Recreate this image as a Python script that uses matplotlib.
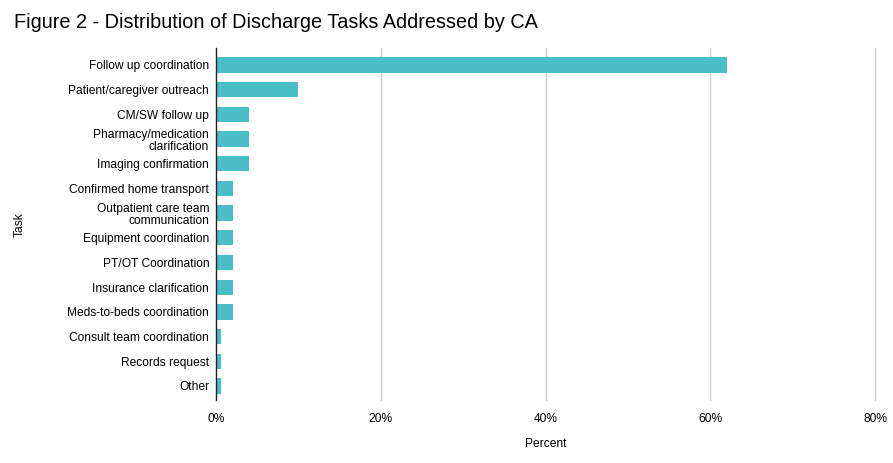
import matplotlib
matplotlib.use('Agg')
import matplotlib.pyplot as plt
from matplotlib.ticker import PercentFormatter

# ── Data ─────────────────────────────────────────────────────
tasks = [
    'Follow up coordination',
    'Patient/caregiver outreach',
    'CM/SW follow up',
    'Pharmacy/medication\nclarification',
    'Imaging confirmation',
    'Confirmed home transport',
    'Outpatient care team\ncommunication',
    'Equipment coordination',
    'PT/OT Coordination',
    'Insurance clarification',
    'Meds-to-beds coordination',
    'Consult team coordination',
    'Records request',
    'Other',
]
percent = [62, 10, 4, 4, 4, 2, 2, 2, 2, 2, 2, 0.6, 0.6, 0.6]
x_ticks = [0, 20, 40, 60, 80]

TEAL = '#4ABEC6'

plt.rcParams['font.family'] = ['Liberation Sans', 'DejaVu Sans']

fig = plt.figure(figsize=(8.93, 4.63), dpi=100)
ax = fig.add_axes([0.242, 0.136, 0.738, 0.760])

ypos = list(range(len(tasks)))
ax.barh(ypos, percent, height=0.62, color=TEAL, zorder=3)

ax.set_xlim(0, 80)
ax.set_ylim(13.57, -0.68)
ax.set_xticks(x_ticks)
ax.xaxis.set_major_formatter(PercentFormatter(decimals=0))
ax.set_yticks(ypos)
ax.set_yticklabels(tasks, fontsize=8.65, linespacing=1.05, multialignment='right')
ax.tick_params(axis='x', length=0, labelsize=8.65, pad=9)
ax.tick_params(axis='y', length=0, pad=5)

ax.grid(axis='x', color='#cccccc', linewidth=1, zorder=0)
for gl in ax.xaxis.get_gridlines():
    gl.set_clip_on(False)
ax.xaxis.get_gridlines()[0].set_visible(False)
for s in ['top', 'right', 'bottom']:
    ax.spines[s].set_visible(False)
ax.spines['left'].set_color('#222222')
ax.spines['left'].set_linewidth(1)
ax.spines['left'].set_zorder(4)

ax.set_xlabel('Percent', fontsize=8.65, labelpad=10)
fig.text(0.022, 0.515, 'Task', rotation=90, fontsize=8.65, ha='center', va='center')

fig.text(0.016, 0.952, 'Figure 2 - Distribution of Discharge Tasks Addressed by CA',
         fontsize=14.35, ha='left', va='center')

fig.savefig('out.png', dpi=100, facecolor='white')
